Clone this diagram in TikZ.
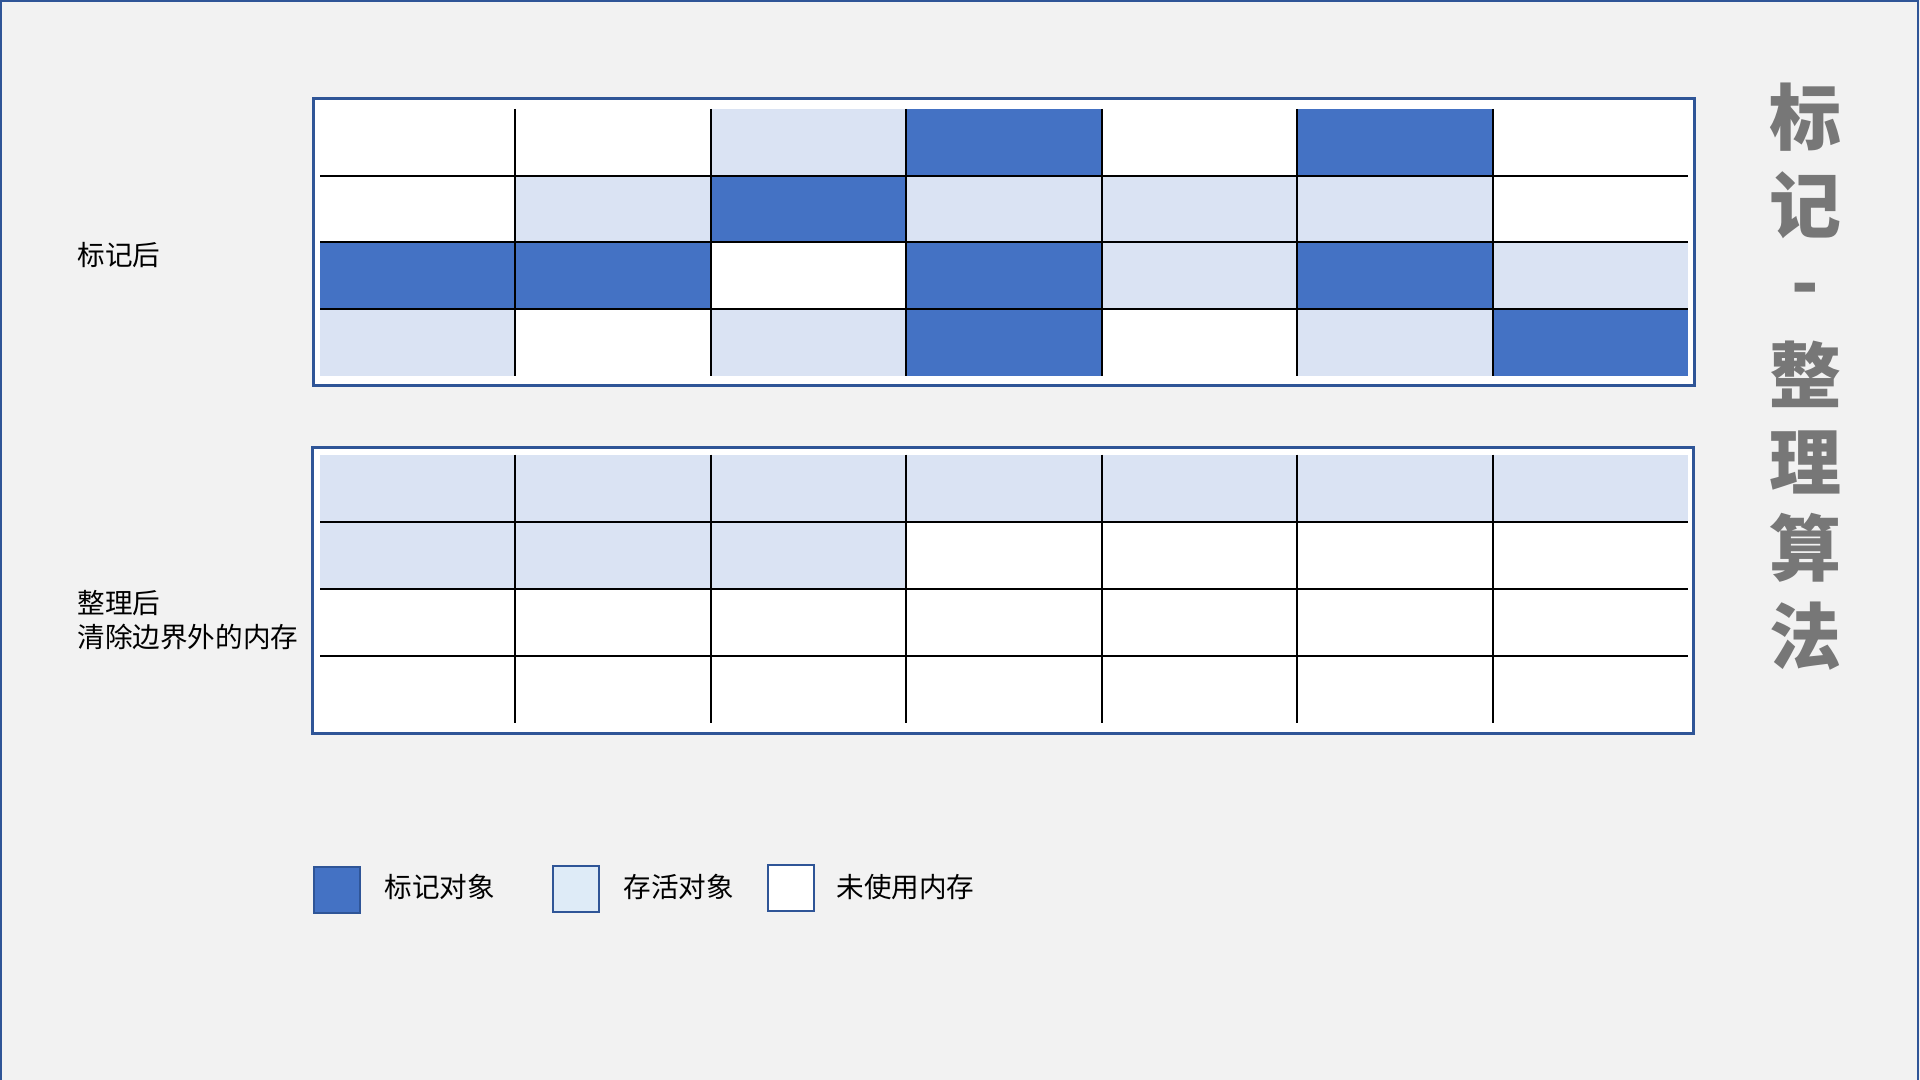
\documentclass[tikz,border=0pt]{standalone}
\usepackage{fontspec}
\setmainfont{Noto Sans CJK SC}
\definecolor{bgc}{HTML}{F2F2F2}
\definecolor{frameblue}{HTML}{2F5597}
\definecolor{darkcell}{HTML}{4472C4}
\definecolor{lightcell}{HTML}{DAE3F3}
\definecolor{lightkey}{HTML}{DEEBF7}
\definecolor{titlegray}{HTML}{777777}
\tikzset{
  tframe/.style={draw=frameblue, line width=1.5pt, fill=white},
  gridline/.style={draw=black, line width=1pt},
  lbl/.style={font=\fontsize{13.8}{17}\selectfont, text=black, inner sep=0pt, anchor=west, align=left},
  ttl/.style={font=\fontsize{36}{40}\selectfont\bfseries, text=titlegray, inner sep=0pt},
  keybox/.style={draw=frameblue, line width=1pt, minimum width=23pt, minimum height=23pt, inner sep=0pt},
}
\begin{document}
\begin{tikzpicture}[x=0.5pt,y=-0.5pt]
\useasboundingbox (0,0) rectangle (1920,1080);
\fill[bgc] (0,0) rectangle (1920,1080);
\draw[frameblue, line width=1pt] (1,1080) -- (1,1) -- (1918,1) -- (1918,1080);

% ---------- top table ----------
\def\cw{195.43}
\path[tframe] (313.5,98.5) rectangle (1694.5,385);
\def\rh{66.75}
\foreach \r/\c in {0/3,0/5,1/2,2/0,2/1,2/3,2/5,3/3,3/6}
  \fill[darkcell] ({320+\c*\cw},{109+\r*\rh}) rectangle ++(\cw,\rh);
\foreach \r/\c in {0/2,1/1,1/3,1/4,1/5,2/4,2/6,3/0,3/2,3/5}
  \fill[lightcell] ({320+\c*\cw},{109+\r*\rh}) rectangle ++(\cw,\rh);
\foreach \r in {1,2,3}
  \draw[gridline] (320,{109+\r*\rh}) -- (1688,{109+\r*\rh});
\foreach \c in {1,...,6}
  \draw[gridline] ({320+\c*\cw},109) -- ({320+\c*\cw},376);

% ---------- bottom table ----------
\path[tframe] (312.3,447.3) rectangle (1693,733.3);
\def\rb{67.15}
\foreach \c in {0,...,6}
  \fill[lightcell] ({320+\c*\cw},454.7) rectangle ++(\cw,\rb);
\foreach \c in {0,1,2}
  \fill[lightcell] ({320+\c*\cw},{454.7+\rb}) rectangle ++(\cw,\rb);
\foreach \r in {1,2,3}
  \draw[gridline] (320,{454.7+\r*\rb}) -- (1688,{454.7+\r*\rb});
\foreach \c in {1,...,6}
  \draw[gridline] ({320+\c*\cw},454.7) -- ({320+\c*\cw},723.3);

% ---------- labels ----------
\node[lbl] (lab1) at (77,255) {标记后};
\node[lbl] (lab2) at (77,620) {整理后\\清除边界外的内存};

% ---------- title ----------
\node[ttl] (t1) at (1805,117) {标};
\node[ttl] (t2) at (1805,205) {记};
\node[ttl] (t3) at (1805,296) {-};
\node[ttl] (t4) at (1805,374) {整};
\node[ttl] (t5) at (1805,462) {理};
\node[ttl] (t6) at (1805,548) {算};
\node[ttl] (t7) at (1805,636) {法};

% ---------- legend ----------
\node[keybox, fill=darkcell] (k1) at (337,890) {};
\node[lbl] (k1t) at (384,887) {标记对象};
\node[keybox, fill=lightkey] (k2) at (575.5,889.3) {};
\node[lbl] (k2t) at (623,887) {存活对象};
\node[keybox, fill=white] (k3) at (790.5,888.4) {};
\node[lbl] (k3t) at (836,887) {未使用内存};
\end{tikzpicture}
\end{document}
